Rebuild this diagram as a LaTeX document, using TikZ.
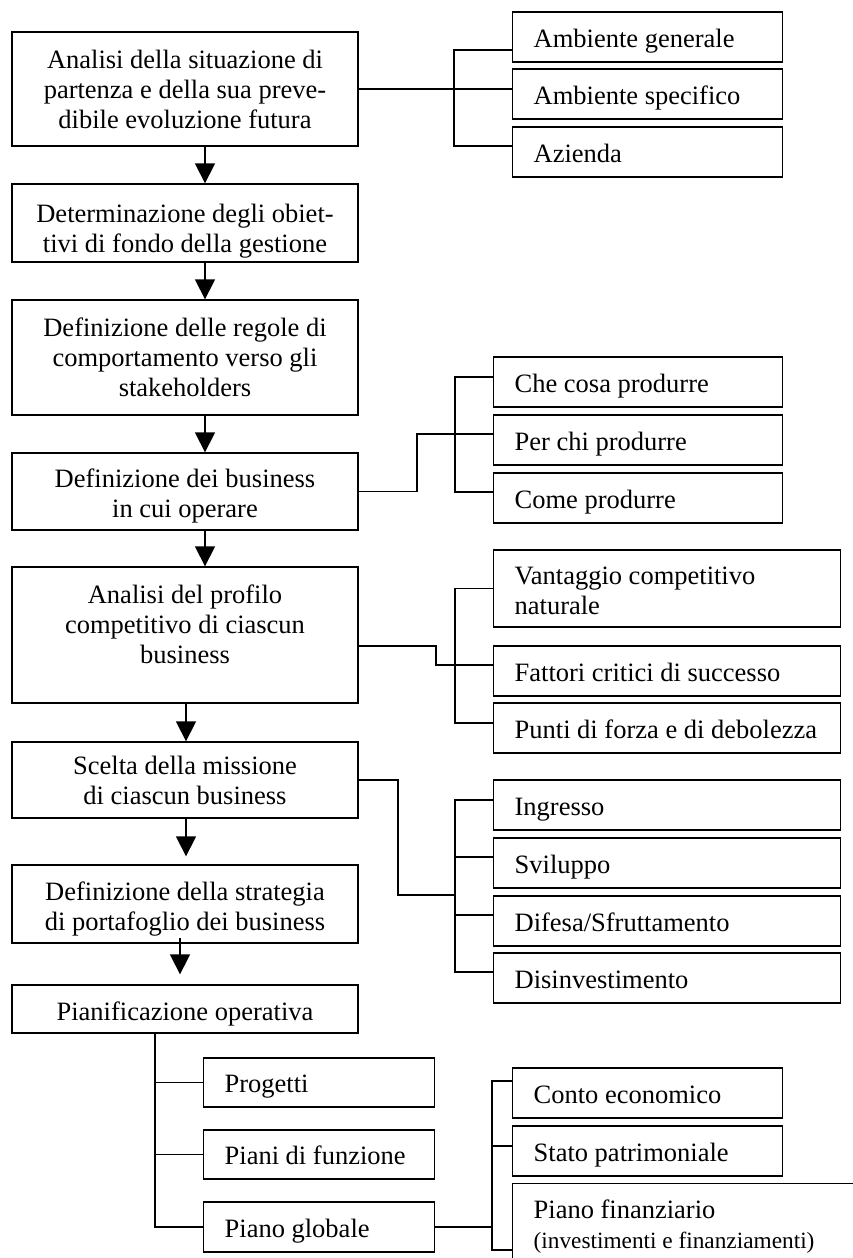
\documentclass[tikz,border=0pt]{standalone}
\usepackage{fontspec}
\setmainfont{Liberation Serif}
\usetikzlibrary{arrows.meta}

\begin{document}
\begin{tikzpicture}[x=1pt,y=-1pt,line width=1.3pt,
  fase/.style={draw,minimum width=346pt,align=center,inner sep=0pt,font=\fontsize{26.5}{30}\selectfont},
  voce/.style={draw,anchor=west,inner sep=0pt,align=flush left,font=\fontsize{26.5}{30}\selectfont,
    execute at begin node={\leftskip=21pt\relax}},
  riga/.style={voce,text height=23pt,text depth=3pt},
  freccia/.style={-{Triangle[length=20pt,width=20pt]}}]
\useasboundingbox (0,0) rectangle (853,1258);
\clip (0,0) rectangle (853,1258);
% fasi principali
\node[fase,minimum height=114pt] (an) at (185,89) {Analisi della situazione di\\partenza e della sua preve-\\dibile evoluzione futura};
\node[fase,minimum height=78pt] (de) at (185,223) {\rule{0pt}{34pt}Determinazione degli obiet-\\tivi di fondo della gestione};
\node[fase,minimum height=115pt] (re) at (185,357.5) {Definizione delle regole di\\comportamento verso gli\\stakeholders};
\node[fase,minimum height=77pt] (bu) at (185,491.5) {\rule{0pt}{28pt}Definizione dei business\\in cui operare};
\node[fase,minimum height=136pt] (pr) at (185,635) {Analisi del profilo\\competitivo di ciascun\\business\rule[-22pt]{0pt}{22pt}};
\node[fase,minimum height=76pt] (mi) at (185,780) {Scelta della missione\\di ciascun business};
\node[fase,minimum height=78pt] (st) at (185,904) {\rule{0pt}{28pt}Definizione della strategia\\di portafoglio dei business};
\node[fase,minimum height=48pt] (po) at (185,1009) {\rule{0pt}{28pt}Pianificazione operativa};
% frecce
\draw[freccia] ([xshift=20pt]an.south) -- ([xshift=20pt]de.north);
\draw[freccia] ([xshift=20pt]de.south) -- ([xshift=20pt]re.north);
\draw[freccia] ([xshift=20pt]re.south) -- ([xshift=20pt]bu.north);
\draw[freccia] ([xshift=20pt]bu.south) -- ([xshift=20pt]pr.north);
\draw[freccia] ([xshift=1pt]pr.south) -- ([xshift=1pt]mi.north);
\draw[freccia] ([xshift=1pt]mi.south) -- ([xshift=1pt,yshift=8pt]st.north);
\draw[freccia] ([xshift=-5pt,yshift=6pt]st.south) -- ([xshift=-5pt,yshift=10pt]po.north);
% ambiente
\node[riga,text width=270pt,minimum height=50pt] (ag) at (512,37) {Ambiente generale};
\node[riga,text width=270pt,minimum height=50pt] (as) at (512,94) {Ambiente specifico};
\node[riga,text width=270pt,minimum height=50pt] (az) at (512,152) {Azienda};
% business
\node[riga,text width=289pt,minimum height=50pt] (cc) at (493,382) {Che cosa produrre};
\node[riga,text width=289pt,minimum height=50pt] (pc) at (493,440) {Per chi produrre};
\node[riga,text width=289pt,minimum height=50pt] (cp) at (493,498) {Come produrre};
% profilo competitivo
\node[voce,text width=347pt,minimum height=77pt] (vc) at (493,588.5) {\rule{0pt}{22pt}Vantaggio competitivo\\naturale};
\node[riga,text width=347pt,minimum height=50pt] (fc) at (493,671) {Fattori critici di successo};
\node[riga,text width=347pt,minimum height=50pt] (pf) at (493,728) {Punti di forza e di debolezza};
% missione
\node[riga,text width=347pt,minimum height=50pt] (ing) at (493,805) {Ingresso};
\node[riga,text width=347pt,minimum height=50pt] (svi) at (493,863) {Sviluppo};
\node[riga,text width=347pt,minimum height=50pt] (dif) at (493,921) {Difesa/Sfruttamento};
\node[riga,text width=347pt,minimum height=50pt] (dis) at (493,978) {Disinvestimento};
% piani
\node[riga,text width=231pt,minimum height=49pt] (prg) at (203,1082.5) {Progetti};
\node[riga,text width=231pt,minimum height=49pt] (fun) at (203,1154.5) {Piani di funzione};
\node[riga,text width=231pt,minimum height=50pt] (pg) at (203,1227) {Piano globale};
% piano globale
\node[riga,text width=270pt,minimum height=50pt] (ce) at (512,1093) {Conto economico};
\node[riga,text width=270pt,minimum height=50pt] (sp) at (512,1151) {Stato patrimoniale};
\node[voce,anchor=north west,text width=400pt,inner ysep=16pt] (fin) at (512,1183) {Piano finanziario\\{\fontsize{23.3}{29}\selectfont(investimenti e finanziamenti)}};
% collegamenti
\coordinate (g1) at (454,0);
\coordinate (g2) at (455,0);
\coordinate (h2) at (417,0);
\coordinate (h3) at (436,0);
\coordinate (h4) at (398,0);
\coordinate (k4) at (455,895);
\coordinate (h5) at (155,0);
\coordinate (g6) at (492,0);
\coordinate (k6) at (492,1250);
\draw (an.east) -- (an.east -| as.west);
\draw ([yshift=-13pt]ag.west) -- ([yshift=-13pt]ag.west -| g1) -- ([yshift=6pt]az.west -| g1) -- ([yshift=6pt]az.west);
\draw ([yshift=5pt]cc.west) -- ([yshift=5pt]cc.west -| g2) -- ([yshift=6pt]cp.west -| g2) -- ([yshift=6pt]cp.west);
\draw (bu.east) -- (bu.east -| h2) -- ([yshift=6pt]pc.west -| h2) -- ([yshift=6pt]pc.west);
\draw (vc.west) -- (vc.west -| g2) -- ([yshift=5pt]pf.west -| g2) -- ([yshift=5pt]pf.west);
\draw ([yshift=-11pt]pr.east) -- ([yshift=-11pt]pr.east -| h3) -- ([yshift=6pt]fc.west -| h3) -- ([yshift=6pt]fc.west);
\draw ([yshift=5pt]ing.west) -- ([yshift=5pt]ing.west -| g2) -- ([yshift=6pt]dis.west -| g2) -- ([yshift=6pt]dis.west);
\draw ([yshift=6pt]svi.west) -- ([yshift=6pt]svi.west -| g2);
\draw ([yshift=6pt]dif.west) -- ([yshift=6pt]dif.west -| g2);
\draw (mi.east) -- (mi.east -| h4) -- (h4 |- k4) -- (k4);
\draw ([xshift=-30pt]po.south) -- (pg.west -| h5) -- (pg.west);
\draw (prg.west) -- (prg.west -| h5);
\draw (fun.west) -- (fun.west -| h5);
\draw ([yshift=12pt]ce.west) -- ([yshift=12pt]ce.west -| g6) -- (k6) -- (k6 -| fin.west);
\draw ([yshift=5pt]sp.west) -- ([yshift=5pt]sp.west -| g6);
\draw (pg.east) -- (pg.east -| g6);
\end{tikzpicture}
\end{document}
